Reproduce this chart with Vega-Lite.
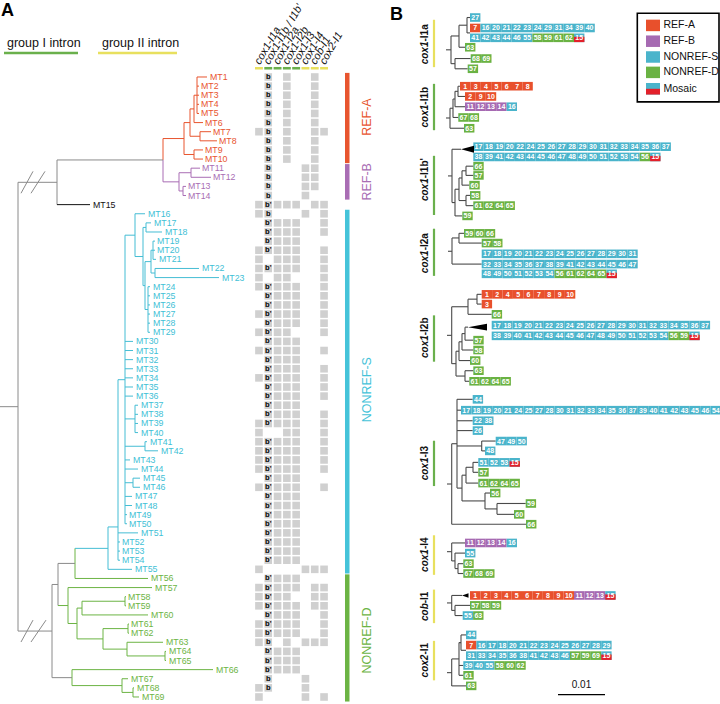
{
"$schema":"https://vega.github.io/schema/vega-lite/v6.json",
"width":720,"height":704,"autosize":"none","padding":0,"background":"white",
"config":{"view":{"stroke":null},"font":"Liberation Sans","text":{"font":"Liberation Sans"}},
"datasets":{
"strains":[
{"n":1,"id":"MT1","cl":"A","lx":210,"p":["b","d","g"],"v":"b"},
{"n":2,"id":"MT2","cl":"A","lx":201,"p":["b","d","g"],"v":"b"},
{"n":3,"id":"MT3","cl":"A","lx":201,"p":["b","d","g"],"v":"b"},
{"n":4,"id":"MT4","cl":"A","lx":201,"p":["b","d","g"],"v":"b"},
{"n":5,"id":"MT5","cl":"A","lx":201,"p":["b","d","g"],"v":"b"},
{"n":6,"id":"MT6","cl":"A","lx":205,"p":["b","d","g"],"v":"b"},
{"n":7,"id":"MT7","cl":"A","lx":213,"p":["a","b","d","g","h"],"v":"b"},
{"n":8,"id":"MT8","cl":"A","lx":219,"p":["b","d","g"],"v":"b"},
{"n":9,"id":"MT9","cl":"A","lx":205,"p":["b","d","g"],"v":"b"},
{"n":10,"id":"MT10","cl":"A","lx":205,"p":["b","d","g"],"v":"b"},
{"n":11,"id":"MT11","cl":"B","lx":202,"p":["b","f","g"],"v":"b"},
{"n":12,"id":"MT12","cl":"B","lx":213,"p":["b","f","g"],"v":"b"},
{"n":13,"id":"MT13","cl":"B","lx":188,"p":["b","f","g"],"v":"b"},
{"n":14,"id":"MT14","cl":"B","lx":188,"p":["b","f"],"v":"b"},
{"n":15,"id":"MT15","cl":"K","lx":93,"p":["a","b","c","d","e","g","h"],"v":"b'"},
{"n":16,"id":"MT16","cl":"S","lx":148,"p":["a","b","f","h"],"v":"b"},
{"n":17,"id":"MT17","cl":"S","lx":154,"p":["b","c","d","e","h"],"v":"b'"},
{"n":18,"id":"MT18","cl":"S","lx":165,"p":["b","c","d","e","h"],"v":"b'"},
{"n":19,"id":"MT19","cl":"S","lx":157,"p":["b","c","d","e"],"v":"b'"},
{"n":20,"id":"MT20","cl":"S","lx":157,"p":["a","b","c","d","e","h"],"v":"b'"},
{"n":21,"id":"MT21","cl":"S","lx":159,"p":["a","c","d","e","h"],"v":""},
{"n":22,"id":"MT22","cl":"S","lx":202,"p":["a","b","c","d","e","h"],"v":"b'"},
{"n":23,"id":"MT23","cl":"S","lx":222,"p":["a","c","d","h"],"v":""},
{"n":24,"id":"MT24","cl":"S","lx":153,"p":["a","b","c","d","e","h"],"v":"b'"},
{"n":25,"id":"MT25","cl":"S","lx":153,"p":["b","c","d","e","h"],"v":"b'"},
{"n":26,"id":"MT26","cl":"S","lx":153,"p":["b","c","d","e","h"],"v":"b'"},
{"n":27,"id":"MT27","cl":"S","lx":153,"p":["a","b","c","d","e","h"],"v":"b'"},
{"n":28,"id":"MT28","cl":"S","lx":153,"p":["b","c","d","e","h"],"v":"b'"},
{"n":29,"id":"MT29","cl":"S","lx":153,"p":["a","b","c","d","h"],"v":"b'"},
{"n":30,"id":"MT30","cl":"S","lx":136,"p":["b","c","d","e"],"v":"b'"},
{"n":31,"id":"MT31","cl":"S","lx":136,"p":["a","b","c","d","e","h"],"v":"b'"},
{"n":32,"id":"MT32","cl":"S","lx":136,"p":["b","c","d","e"],"v":"b'"},
{"n":33,"id":"MT33","cl":"S","lx":136,"p":["b","c","d","e","h"],"v":"b'"},
{"n":34,"id":"MT34","cl":"S","lx":136,"p":["a","b","c","d","e","h"],"v":"b'"},
{"n":35,"id":"MT35","cl":"S","lx":136,"p":["b","c","d","e","h"],"v":"b'"},
{"n":36,"id":"MT36","cl":"S","lx":136,"p":["b","c","d","e","h"],"v":"b'"},
{"n":37,"id":"MT37","cl":"S","lx":141,"p":["b","c","d","e"],"v":"b'"},
{"n":38,"id":"MT38","cl":"S","lx":141,"p":["b","c","d","e","h"],"v":"b'"},
{"n":39,"id":"MT39","cl":"S","lx":141,"p":["a","b","c","d","e","h"],"v":"b'"},
{"n":40,"id":"MT40","cl":"S","lx":141,"p":["a","d","e","h"],"v":""},
{"n":41,"id":"MT41","cl":"S","lx":150,"p":["a","b","c","d","e","h"],"v":"b'"},
{"n":42,"id":"MT42","cl":"S","lx":161,"p":["a","b","c","d","e","h"],"v":"b'"},
{"n":43,"id":"MT43","cl":"S","lx":133,"p":["a","b","c","d","e","h"],"v":"b'"},
{"n":44,"id":"MT44","cl":"S","lx":141,"p":["a","b","c","d","e","h"],"v":"b'"},
{"n":45,"id":"MT45","cl":"S","lx":143,"p":["b","c","d","e"],"v":"b'"},
{"n":46,"id":"MT46","cl":"S","lx":143,"p":["a","b","c","d","e","h"],"v":"b'"},
{"n":47,"id":"MT47","cl":"S","lx":135,"p":["b","c","d","e"],"v":"b'"},
{"n":48,"id":"MT48","cl":"S","lx":135,"p":["b","c","d","e"],"v":"b'"},
{"n":49,"id":"MT49","cl":"S","lx":129,"p":["b","c","d","e"],"v":"b'"},
{"n":50,"id":"MT50","cl":"S","lx":129,"p":["b","c","d","e"],"v":"b'"},
{"n":51,"id":"MT51","cl":"S","lx":141,"p":["b","c","d","e"],"v":"b'"},
{"n":52,"id":"MT52","cl":"S","lx":122,"p":["b","c","d","e"],"v":"b'"},
{"n":53,"id":"MT53","cl":"S","lx":122,"p":["b","c","d","e"],"v":"b'"},
{"n":54,"id":"MT54","cl":"S","lx":122,"p":["b","c","d","e"],"v":"b'"},
{"n":55,"id":"MT55","cl":"S","lx":135,"p":["a","f","g","h"],"v":""},
{"n":56,"id":"MT56","cl":"D","lx":151,"p":["b","c","d","e"],"v":"b'"},
{"n":57,"id":"MT57","cl":"D","lx":155,"p":["a","b","c","d","e","g","h"],"v":"b'"},
{"n":58,"id":"MT58","cl":"D","lx":128,"p":["a","b","c","d","g","h"],"v":"b'"},
{"n":59,"id":"MT59","cl":"D","lx":128,"p":["a","b","c","d","e","g","h"],"v":"b'"},
{"n":60,"id":"MT60","cl":"D","lx":151,"p":["b","c","d","e","h"],"v":"b'"},
{"n":61,"id":"MT61","cl":"D","lx":131,"p":["a","b","c","d","e","h"],"v":"b'"},
{"n":62,"id":"MT62","cl":"D","lx":131,"p":["a","b","c","d","e","h"],"v":"b'"},
{"n":63,"id":"MT63","cl":"D","lx":166,"p":["a","b","d","f","g","h"],"v":"b"},
{"n":64,"id":"MT64","cl":"D","lx":169,"p":["b","c","d","e"],"v":"b'"},
{"n":65,"id":"MT65","cl":"D","lx":169,"p":["b","c","d","e"],"v":"b'"},
{"n":66,"id":"MT66","cl":"D","lx":216,"p":["b","c","d","e"],"v":"b'"},
{"n":67,"id":"MT67","cl":"D","lx":131,"p":["b","f"],"v":"b"},
{"n":68,"id":"MT68","cl":"D","lx":137,"p":["a","b","f"],"v":"b"},
{"n":69,"id":"MT69","cl":"D","lx":142,"p":["a","f","h"],"v":""}
],
"hA":[
{"x":0,"x2":18,"y":37.16,"c":"G"},{"x":18,"x2":57,"y":12.55,"c":"G"},{"x":18,"x2":52,"y":61.77,"c":"G"},
{"x":57,"x2":163,"y":10.1,"c":"G"},{"x":57,"x2":90,"y":15,"c":"K"},
{"x":163,"x2":184,"y":7.75,"c":"A"},{"x":163,"x2":179,"y":12.5,"c":"B"},
{"x":184,"x2":190,"y":6,"c":"A"},{"x":184,"x2":194,"y":9.5,"c":"A"},{"x":190,"x2":194,"y":4.5,"c":"A"},{"x":190,"x2":200,"y":7.5,"c":"A"},
{"x":194,"x2":197,"y":3,"c":"A"},{"x":194,"x2":203,"y":6,"c":"A"},{"x":197,"x2":207,"y":1,"c":"A"},{"x":197,"x2":199,"y":2,"c":"A"},
{"x":197,"x2":199,"y":3,"c":"A"},{"x":197,"x2":199,"y":4,"c":"A"},{"x":197,"x2":199,"y":5,"c":"A"},{"x":200,"x2":211,"y":7,"c":"A"},
{"x":200,"x2":217,"y":8,"c":"A"},{"x":194,"x2":203,"y":9,"c":"A"},{"x":194,"x2":203,"y":10,"c":"A"},
{"x":179,"x2":191,"y":11.5,"c":"B"},{"x":179,"x2":183,"y":13.5,"c":"B"},{"x":191,"x2":200,"y":11,"c":"B"},{"x":191,"x2":211,"y":12,"c":"B"},
{"x":183,"x2":186,"y":13,"c":"B"},{"x":183,"x2":186,"y":14,"c":"B"},
{"x":135,"x2":145,"y":16,"c":"S"},{"x":135,"x2":143,"y":20.69,"c":"S"},{"x":143,"x2":146,"y":17.5,"c":"S"},{"x":143,"x2":145,"y":23.88,"c":"S"},
{"x":146,"x2":151,"y":17,"c":"S"},{"x":146,"x2":162,"y":18,"c":"S"},{"x":145,"x2":151,"y":21.25,"c":"S"},{"x":145,"x2":148,"y":26.5,"c":"S"},
{"x":151,"x2":153,"y":20,"c":"S"},{"x":151,"x2":155,"y":22.5,"c":"S"},{"x":153,"x2":155,"y":19,"c":"S"},{"x":153,"x2":155,"y":20,"c":"S"},
{"x":153,"x2":156,"y":21,"c":"S"},{"x":155,"x2":199,"y":22,"c":"S"},{"x":155,"x2":219,"y":23,"c":"S"},
{"x":148,"x2":150,"y":24,"c":"S"},{"x":148,"x2":150,"y":25,"c":"S"},{"x":148,"x2":150,"y":26,"c":"S"},{"x":148,"x2":150,"y":27,"c":"S"},
{"x":148,"x2":150,"y":28,"c":"S"},{"x":148,"x2":150,"y":29,"c":"S"},
{"x":125,"x2":135,"y":18.35,"c":"S"},
{"x":125,"x2":133,"y":30,"c":"S"},{"x":125,"x2":133,"y":31,"c":"S"},{"x":125,"x2":133,"y":32,"c":"S"},{"x":125,"x2":133,"y":33,"c":"S"},
{"x":125,"x2":133,"y":34,"c":"S"},{"x":125,"x2":133,"y":35,"c":"S"},{"x":125,"x2":133,"y":36,"c":"S"},
{"x":135,"x2":138,"y":37,"c":"S"},{"x":135,"x2":138,"y":38,"c":"S"},{"x":135,"x2":138,"y":39,"c":"S"},{"x":135,"x2":138,"y":40,"c":"S"},
{"x":125,"x2":135,"y":38.5,"c":"S"},{"x":145,"x2":147,"y":41,"c":"S"},{"x":145,"x2":158,"y":42,"c":"S"},{"x":125,"x2":145,"y":41.5,"c":"S"},
{"x":125,"x2":130,"y":43,"c":"S"},{"x":125,"x2":138,"y":44,"c":"S"},{"x":133,"x2":140,"y":45,"c":"S"},{"x":133,"x2":140,"y":46,"c":"S"},
{"x":125,"x2":133,"y":45.5,"c":"S"},{"x":125,"x2":132,"y":47,"c":"S"},{"x":125,"x2":132,"y":48,"c":"S"},{"x":125,"x2":127,"y":49,"c":"S"},
{"x":125,"x2":127,"y":50,"c":"S"},{"x":118,"x2":125,"y":34.2,"c":"S"},{"x":118,"x2":138,"y":51,"c":"S"},{"x":118,"x2":120,"y":52,"c":"S"},
{"x":118,"x2":120,"y":53,"c":"S"},{"x":118,"x2":120,"y":54,"c":"S"},{"x":108,"x2":118,"y":50.35,"c":"S"},{"x":108,"x2":132,"y":55,"c":"S"},
{"x":75,"x2":108,"y":52.7,"c":"S"},
{"x":75,"x2":148,"y":56,"c":"D"},{"x":58,"x2":75,"y":54.35,"c":"G"},{"x":58,"x2":68,"y":58.97,"c":"D"},{"x":68,"x2":152,"y":57,"c":"D"},
{"x":68,"x2":77,"y":60.94,"c":"D"},{"x":77,"x2":82,"y":59.25,"c":"D"},{"x":77,"x2":103,"y":62.63,"c":"D"},{"x":82,"x2":125,"y":58.5,"c":"D"},
{"x":82,"x2":148,"y":60,"c":"D"},{"x":125,"x2":126,"y":58,"c":"D"},{"x":125,"x2":126,"y":59,"c":"D"},{"x":103,"x2":128,"y":61.5,"c":"D"},
{"x":103,"x2":127,"y":63.75,"c":"D"},{"x":128,"x2":129,"y":61,"c":"D"},{"x":128,"x2":129,"y":62,"c":"D"},{"x":127,"x2":163,"y":63,"c":"D"},
{"x":127,"x2":165,"y":64.5,"c":"D"},{"x":165,"x2":166,"y":64,"c":"D"},{"x":165,"x2":166,"y":65,"c":"D"},
{"x":52,"x2":58,"y":56.66,"c":"G"},{"x":52,"x2":72,"y":66.88,"c":"G"},
{"x":72,"x2":213,"y":66,"c":"D"},{"x":72,"x2":122,"y":67.75,"c":"D"},{"x":122,"x2":128,"y":67,"c":"D"},{"x":122,"x2":133,"y":68.5,"c":"D"},
{"x":133,"x2":134,"y":68,"c":"D"},{"x":133,"x2":139,"y":69,"c":"D"}
],
"vA":[
{"x":18,"y":12.55,"y2":61.77,"c":"G"},{"x":57,"y":10.1,"y2":15,"c":"G"},{"x":163,"y":7.75,"y2":10.1,"c":"A"},{"x":163,"y":10.1,"y2":12.5,"c":"B"},
{"x":184,"y":6,"y2":9.5,"c":"A"},{"x":190,"y":4.5,"y2":7.5,"c":"A"},{"x":194,"y":3,"y2":6,"c":"A"},{"x":197,"y":1,"y2":5,"c":"A"},
{"x":200,"y":7,"y2":8,"c":"A"},{"x":194,"y":9,"y2":10,"c":"A"},{"x":179,"y":11.5,"y2":13.5,"c":"B"},{"x":191,"y":11,"y2":12,"c":"B"},
{"x":183,"y":13,"y2":14,"c":"B"},{"x":135,"y":16,"y2":20.69,"c":"S"},{"x":143,"y":17.5,"y2":23.88,"c":"S"},{"x":146,"y":17,"y2":18,"c":"S"},
{"x":145,"y":21.25,"y2":26.5,"c":"S"},{"x":151,"y":20,"y2":22.5,"c":"S"},{"x":153,"y":19,"y2":21,"c":"S"},{"x":155,"y":22,"y2":23,"c":"S"},
{"x":148,"y":24,"y2":29,"c":"S"},{"x":125,"y":18.35,"y2":50,"c":"S"},{"x":135,"y":37,"y2":40,"c":"S"},{"x":145,"y":41,"y2":42,"c":"S"},
{"x":133,"y":45,"y2":46,"c":"S"},{"x":118,"y":34.2,"y2":54,"c":"S"},{"x":108,"y":50.35,"y2":55,"c":"S"},{"x":75,"y":52.7,"y2":56,"c":"D"},
{"x":58,"y":54.35,"y2":58.97,"c":"G"},{"x":68,"y":57,"y2":60.94,"c":"D"},{"x":77,"y":59.25,"y2":62.63,"c":"D"},{"x":82,"y":58.5,"y2":60,"c":"D"},
{"x":125,"y":58,"y2":59,"c":"D"},{"x":103,"y":61.5,"y2":63.75,"c":"D"},{"x":128,"y":61,"y2":62,"c":"D"},{"x":127,"y":63,"y2":64.5,"c":"D"},
{"x":165,"y":64,"y2":65,"c":"D"},{"x":52,"y":56.66,"y2":66.88,"c":"G"},{"x":72,"y":66,"y2":67.75,"c":"D"},{"x":122,"y":67,"y2":68.5,"c":"D"},
{"x":133,"y":68,"y2":69,"c":"D"}
],
"dA":[
{"x":21,"x2":33,"y":13.75,"y2":11.35},{"x":31,"x2":45,"y":13.75,"y2":11.35},
{"x":21,"x2":33,"y":62.97,"y2":60.57},{"x":31,"x2":46,"y":62.97,"y2":60.57}
],
"clades":[
{"c":"A","lab":"REF-A","r0":0.55,"r1":10.45,"m":5.4},
{"c":"B","lab":"REF-B","r0":10.55,"r1":14.45,"m":12.5},
{"c":"S","lab":"NONREF-S","r0":15.55,"r1":55.45,"m":35.3},
{"c":"D","lab":"NONREF-D","r0":55.55,"r1":69.5,"m":62.8}
],
"groups":[
{"g":"I","lab":"group I intron","tx":7,"x1":4,"x2":78},
{"g":"II","lab":"group II intron","tx":102,"x1":98,"x2":177}
],
"cols":[
{"c":"a","lab":"cox1-I1a","g":"II"},{"c":"b","lab":"cox1-I1b / I1b'","g":"I"},{"c":"c","lab":"cox1-I2a","g":"I"},
{"c":"d","lab":"cox1-I2b","g":"I"},{"c":"e","lab":"cox1-I3","g":"I"},{"c":"f","lab":"cox1-I4","g":"II"},
{"c":"g","lab":"cob-I1","g":"II"},{"c":"h","lab":"cox2-I1","g":"II"}
],
"lines":[
{"id":1,"r":1.0,"x0":470,"ns":[27]},
{"id":2,"r":2.02,"x0":470,"ns":[7,16,20,21,22,23,24,29,31,34,39,40]},
{"id":3,"r":2.98,"x0":470,"ns":[41,42,43,44,46,55,58,59,61,62,15]},
{"id":4,"r":3.9,"x0":465,"ns":[63]},
{"id":5,"r":5.0,"x0":470.7,"ns":[68,69]},
{"id":6,"r":6.0,"x0":467.7,"ns":[57]},
{"id":7,"r":7.7,"x0":460,"ns":[1,3,4,5,6,7,8]},
{"id":8,"r":8.7,"x0":465,"ns":[2,9,10]},
{"id":9,"r":9.7,"x0":465,"ns":[11,12,13,14,16]},
{"id":10,"r":10.75,"x0":458.3,"ns":[67,68]},
{"id":11,"r":11.8,"x0":464,"ns":[63]},
{"id":12,"r":13.6,"x0":473.3,"ns":[17,18,19,20,22,24,25,26,27,28,29,30,31,32,33,34,35,36,37]},
{"id":13,"r":14.6,"x0":473.3,"ns":[38,39,41,42,43,44,45,46,47,48,49,50,51,52,53,54,56,15]},
{"id":14,"r":15.5,"x0":473.3,"ns":[66]},
{"id":15,"r":16.4,"x0":473.3,"ns":[57]},
{"id":16,"r":17.35,"x0":469.3,"ns":[60]},
{"id":17,"r":18.35,"x0":470,"ns":[58]},
{"id":18,"r":19.35,"x0":473.3,"ns":[61,62,64,65]},
{"id":19,"r":20.35,"x0":462.3,"ns":[59]},
{"id":20,"r":22.05,"x0":464,"ns":[59,60,66]},
{"id":21,"r":23.0,"x0":481.7,"ns":[57,58]},
{"id":22,"r":24.05,"x0":481.7,"ns":[17,18,19,20,21,22,23,24,25,26,27,28,29,30,31]},
{"id":23,"r":25.05,"x0":481.7,"ns":[32,33,34,35,36,37,38,39,41,42,43,44,45,46,47]},
{"id":24,"r":26.0,"x0":481.7,"ns":[48,49,50,51,52,53,54,56,61,62,64,65,15]},
{"id":25,"r":28.0,"x0":481.7,"ns":[1,2,4,5,6,7,8,9,10]},
{"id":26,"r":28.95,"x0":481.7,"ns":[3]},
{"id":27,"r":29.95,"x0":491.7,"ns":[66]},
{"id":28,"r":31.0,"x0":491.7,"ns":[17,18,19,20,21,22,23,24,25,26,27,28,29,30,31,32,33,34,35,36,37]},
{"id":29,"r":32.05,"x0":491.7,"ns":[38,39,40,41,42,43,44,45,46,47,48,49,50,51,52,53,54,56,59,15]},
{"id":30,"r":32.47,"x0":473.3,"ns":[57]},
{"id":31,"r":33.43,"x0":473.3,"ns":[58]},
{"id":32,"r":34.46,"x0":470,"ns":[60]},
{"id":33,"r":35.45,"x0":473.3,"ns":[63]},
{"id":34,"r":36.48,"x0":469.3,"ns":[61,62,64,65]},
{"id":35,"r":38.24,"x0":472.7,"ns":[44]},
{"id":36,"r":39.3,"x0":461,"ns":[17,18,19,20,21,24,25,27,28,30,31,32,33,34,35,36,37,39,40,41,42,43,45,46,54]},
{"id":37,"r":40.33,"x0":472.7,"ns":[22,38]},
{"id":38,"r":41.29,"x0":472.7,"ns":[26]},
{"id":39,"r":42.31,"x0":495.7,"ns":[47,49,50]},
{"id":40,"r":43.27,"x0":485,"ns":[48]},
{"id":41,"r":44.39,"x0":478.3,"ns":[51,52,53,15]},
{"id":42,"r":45.36,"x0":478.3,"ns":[57]},
{"id":43,"r":46.41,"x0":478.3,"ns":[61,62,64,65]},
{"id":44,"r":47.38,"x0":490,"ns":[56]},
{"id":45,"r":48.4,"x0":525.7,"ns":[59]},
{"id":46,"r":49.46,"x0":514,"ns":[60]},
{"id":47,"r":50.42,"x0":526,"ns":[66]},
{"id":48,"r":52.25,"x0":465,"ns":[11,12,13,14,16]},
{"id":49,"r":53.24,"x0":465,"ns":[55]},
{"id":50,"r":54.27,"x0":463.3,"ns":[63]},
{"id":51,"r":55.23,"x0":463.3,"ns":[67,68,69]},
{"id":52,"r":57.37,"x0":470,"ns":[1,2,3,4,5,6,7,8,9,10,11,12,13,15]},
{"id":53,"r":58.34,"x0":470,"ns":[57,58,59]},
{"id":54,"r":59.33,"x0":462.7,"ns":[55,63]},
{"id":55,"r":61.22,"x0":466,"ns":[44]},
{"id":56,"r":62.21,"x0":466,"ns":[7,16,17,18,20,21,22,23,24,25,26,27,28,29]},
{"id":57,"r":63.24,"x0":466,"ns":[31,33,34,35,36,38,41,42,43,46,57,59,69,15]},
{"id":58,"r":64.2,"x0":463.3,"ns":[39,40,55,58,60,62]},
{"id":59,"r":65.16,"x0":463.3,"ns":[61]},
{"id":60,"r":66.19,"x0":466,"ns":[63]}
],
"hB":[
{"x":467,"x2":470,"y":1.0},{"x":467,"x2":470,"y":2.5},{"x":459,"x2":467,"y":1.75},{"x":459,"x2":465,"y":3.9},{"x":455,"x2":470.7,"y":5},
{"x":455,"x2":467.7,"y":6},{"x":451,"x2":459,"y":2.8},{"x":451,"x2":455,"y":5.5},{"x":446,"x2":451,"y":4.15},
{"x":458,"x2":460,"y":7.7},{"x":458,"x2":465,"y":8.7},{"x":455,"x2":458,"y":8.2},{"x":455,"x2":465,"y":9.7},{"x":453,"x2":455,"y":8.95},
{"x":453,"x2":458.3,"y":10.75},{"x":450,"x2":453,"y":9.85},{"x":450,"x2":464,"y":11.8},{"x":446,"x2":450,"y":10.8},
{"x":466,"x2":473.3,"y":15.5},{"x":466,"x2":473.3,"y":16.4},{"x":462,"x2":466,"y":15.95},{"x":462,"x2":469.3,"y":17.35},{"x":466,"x2":470,"y":18.35},
{"x":466,"x2":473.3,"y":19.35},{"x":459,"x2":462,"y":16.65},{"x":459,"x2":466,"y":18.85},{"x":455,"x2":459,"y":17.75},{"x":455,"x2":462.3,"y":20.35},
{"x":452,"x2":461,"y":13.85},{"x":452,"x2":455,"y":19.05},{"x":448,"x2":452,"y":16.45},
{"x":459,"x2":464,"y":22.05},{"x":459,"x2":481.7,"y":23.0},{"x":452,"x2":459,"y":22.5},{"x":452,"x2":481.7,"y":25.05},{"x":448,"x2":452,"y":23.8},
{"x":477,"x2":481.7,"y":28.0},{"x":477,"x2":481.7,"y":28.95},{"x":468,"x2":477,"y":28.47},{"x":468,"x2":491.7,"y":29.95},{"x":465,"x2":468,"y":31.2},
{"x":465,"x2":473.3,"y":32.47},{"x":462,"x2":465,"y":31.83},{"x":462,"x2":473.3,"y":33.43},{"x":459,"x2":462,"y":32.63},{"x":459,"x2":470,"y":34.46},
{"x":465,"x2":473.3,"y":35.45},{"x":465,"x2":469.3,"y":36.48},{"x":456,"x2":459,"y":33.55},{"x":456,"x2":465,"y":35.97},{"x":451.7,"x2":468,"y":29.21},
{"x":451.7,"x2":456,"y":34.76},{"x":447,"x2":451.7,"y":32.0},
{"x":457,"x2":472.7,"y":38.24},{"x":457,"x2":461,"y":39.3},{"x":457,"x2":472.7,"y":40.33},{"x":457,"x2":472.7,"y":41.29},{"x":481.7,"x2":495.7,"y":42.31},
{"x":481.7,"x2":485,"y":43.27},{"x":457,"x2":481.7,"y":42.79},{"x":473,"x2":478.3,"y":44.39},{"x":473,"x2":478.3,"y":45.36},{"x":466,"x2":473,"y":44.87},
{"x":466,"x2":478.3,"y":46.41},{"x":497,"x2":525.7,"y":48.4},{"x":497,"x2":514,"y":49.46},{"x":485,"x2":490,"y":47.38},{"x":485,"x2":497,"y":48.93},
{"x":462,"x2":466,"y":45.64},{"x":462,"x2":485,"y":48.15},{"x":457,"x2":462,"y":46.9},{"x":451.7,"x2":457,"y":42.57},{"x":451.7,"x2":526,"y":50.42},
{"x":447,"x2":451.7,"y":46.5},
{"x":458,"x2":463.3,"y":54.27},{"x":458,"x2":463.3,"y":55.23},{"x":455,"x2":465,"y":53.24},{"x":455,"x2":458,"y":54.75},{"x":451.7,"x2":465,"y":52.25},
{"x":451.7,"x2":455,"y":54.0},{"x":447,"x2":451.7,"y":53.1},
{"x":455,"x2":470,"y":58.34},{"x":455,"x2":462.7,"y":59.33},{"x":451.7,"x2":462,"y":57.37},{"x":451.7,"x2":455,"y":58.83},{"x":447,"x2":451.7,"y":58.1},
{"x":461,"x2":466,"y":61.22},{"x":461,"x2":466,"y":62.72},{"x":459,"x2":461,"y":61.97},{"x":459,"x2":463.3,"y":64.2},{"x":459,"x2":463.3,"y":65.16},
{"x":451.7,"x2":459,"y":63.56},{"x":451.7,"x2":466,"y":66.19},{"x":447,"x2":451.7,"y":64.9}
],
"vB":[
{"x":467,"y":1.0,"y2":2.5},{"x":459,"y":1.75,"y2":3.9},{"x":455,"y":5,"y2":6},{"x":451,"y":2.8,"y2":5.5},
{"x":458,"y":7.7,"y2":8.7},{"x":455,"y":8.2,"y2":9.7},{"x":453,"y":8.95,"y2":10.75},{"x":450,"y":9.85,"y2":11.8},
{"x":466,"y":15.5,"y2":16.4},{"x":462,"y":15.95,"y2":17.35},{"x":466,"y":18.35,"y2":19.35},{"x":459,"y":16.65,"y2":18.85},{"x":455,"y":17.75,"y2":20.35},{"x":452,"y":13.85,"y2":19.05},
{"x":459,"y":22.05,"y2":23.0},{"x":452,"y":22.5,"y2":25.05},
{"x":477,"y":28.0,"y2":28.95},{"x":468,"y":28.47,"y2":29.95},{"x":465,"y":31.2,"y2":32.47},{"x":462,"y":31.83,"y2":33.43},{"x":459,"y":32.63,"y2":34.46},
{"x":465,"y":35.45,"y2":36.48},{"x":456,"y":33.55,"y2":35.97},{"x":451.7,"y":29.21,"y2":34.76},
{"x":457,"y":38.24,"y2":46.9},{"x":481.7,"y":42.31,"y2":43.27},{"x":473,"y":44.39,"y2":45.36},{"x":466,"y":44.87,"y2":46.41},{"x":497,"y":48.4,"y2":49.46},
{"x":485,"y":47.38,"y2":48.93},{"x":462,"y":45.64,"y2":48.15},{"x":451.7,"y":42.57,"y2":50.42},
{"x":458,"y":54.27,"y2":55.23},{"x":455,"y":53.24,"y2":54.75},{"x":451.7,"y":52.25,"y2":54.0},
{"x":455,"y":58.34,"y2":59.33},{"x":451.7,"y":57.37,"y2":58.83},
{"x":461,"y":61.22,"y2":62.72},{"x":459,"y":61.97,"y2":65.16},{"x":451.7,"y":63.56,"y2":66.19}
],
"tri":[
{"id":1,"x":461,"lo":13.85,"hi":13.85},{"id":1,"x":474,"lo":13.5,"hi":14.2},
{"id":2,"x":468,"lo":31.2,"hi":31.2},{"id":2,"x":487,"lo":30.87,"hi":31.53},
{"id":3,"x":462,"lo":57.37,"hi":57.37},{"id":3,"x":468.5,"lo":57.15,"hi":57.59}
],
"introns":[
{"a":"cox1","b":"-I1a","g":"II","r0":1.22,"r1":5.84,"j":3.34},
{"a":"cox1","b":"-I1b","g":"I","r0":7.47,"r1":11.99,"j":9.5},
{"a":"cox1","b":"-I1b'","g":"I","r0":14.49,"r1":20.26,"j":16.68},
{"a":"cox1","b":"-I2a","g":"I","r0":21.6,"r1":26.2,"j":23.71},
{"a":"cox1","b":"-I2b","g":"I","r0":30.05,"r1":34.57,"j":31.99},
{"a":"cox1","b":"-I3","g":"I","r0":42.28,"r1":46.7,"j":43.92},
{"a":"cox1","b":"-I4","g":"II","r0":51.5,"r1":55.36,"j":52.85},
{"a":"cob","b":"-I1","g":"II","r0":56.8,"r1":60.07,"j":58.13},
{"a":"cox2","b":"-I1","g":"II","r0":61.8,"r1":65.65,"j":63.14}
],
"legend":[
{"c":"A","lab":"REF-A","r":1.77},{"c":"B","lab":"REF-B","r":3.31},{"c":"S","lab":"NONREF-S","r":4.85},
{"c":"D","lab":"NONREF-D","r":6.35},{"c":"K","lab":"Mosaic","r":7.95}
]
},
"layer":[
{
"layer":[
{"data":{"name":"vA"},"mark":{"type":"rule","strokeWidth":1},
 "encoding":{"x":{"field":"x","type":"quantitative","scale":{"domain":[0,720],"nice":false,"zero":false},"axis":null},
 "y":{"field":"y","type":"quantitative","scale":{"domain":[-7.445,69.77],"nice":false,"zero":false,"reverse":true},"axis":null},
 "y2":{"field":"y2"},
 "color":{"field":"c","type":"nominal","scale":{"domain":["A","B","S","D","K","G"],"range":["#e8552f","#a96db4","#45bdd4","#6cb444","#111111","#8a8a8a"]},"legend":null}}},
{"data":{"name":"hA"},"mark":{"type":"rule","strokeWidth":1},
 "encoding":{"x":{"field":"x","type":"quantitative","scale":{"domain":[0,720],"nice":false,"zero":false},"axis":null},
 "x2":{"field":"x2"},
 "y":{"field":"y","type":"quantitative","scale":{"domain":[-7.445,69.77],"nice":false,"zero":false,"reverse":true},"axis":null},
 "color":{"field":"c","type":"nominal","scale":{"domain":["A","B","S","D","K","G"],"range":["#e8552f","#a96db4","#45bdd4","#6cb444","#111111","#8a8a8a"]},"legend":null}}},
{"data":{"name":"dA"},"mark":{"type":"rule","strokeWidth":1,"color":"#8a8a8a"},
 "encoding":{"x":{"field":"x","type":"quantitative","scale":{"domain":[0,720],"nice":false,"zero":false},"axis":null},
 "x2":{"field":"x2"},
 "y":{"field":"y","type":"quantitative","scale":{"domain":[-7.445,69.77],"nice":false,"zero":false,"reverse":true},"axis":null},
 "y2":{"field":"y2"}}},
{"data":{"name":"strains"},"mark":{"type":"text","align":"left","baseline":"middle","fontSize":8.8},
 "encoding":{"x":{"field":"lx","type":"quantitative","scale":{"domain":[0,720],"nice":false,"zero":false},"axis":null},
 "y":{"field":"n","type":"quantitative","scale":{"domain":[-7.445,69.77],"nice":false,"zero":false,"reverse":true},"axis":null},
 "text":{"field":"id"},
 "color":{"field":"cl","type":"nominal","scale":{"domain":["A","B","S","D","K","G"],"range":["#e8552f","#a96db4","#3fbfd6","#6cb444","#111111","#8a8a8a"]},"legend":null}}},
{"data":{"name":"clades"},"mark":{"type":"rect"},
 "encoding":{"x":{"datum":345,"type":"quantitative","scale":{"domain":[0,720],"nice":false,"zero":false},"axis":null},
 "x2":{"datum":349.5},
 "y":{"field":"r0","type":"quantitative","scale":{"domain":[-7.445,69.77],"nice":false,"zero":false,"reverse":true},"axis":null},
 "y2":{"field":"r1"},
 "color":{"field":"c","type":"nominal","scale":{"domain":["A","B","S","D"],"range":["#e8552f","#a96db4","#45c3d9","#6cb444"]},"legend":null}}},
{"data":{"name":"clades"},"mark":{"type":"text","angle":270,"align":"center","baseline":"middle","fontSize":12.5},
 "encoding":{"x":{"datum":367,"type":"quantitative","scale":{"domain":[0,720],"nice":false,"zero":false},"axis":null},
 "y":{"field":"m","type":"quantitative","scale":{"domain":[-7.445,69.77],"nice":false,"zero":false,"reverse":true},"axis":null},
 "text":{"field":"lab"},
 "color":{"field":"c","type":"nominal","scale":{"domain":["A","B","S","D"],"range":["#e8552f","#a96db4","#45c3d9","#6cb444"]},"legend":null}}},
{"data":{"name":"groups"},"mark":{"type":"rule","strokeWidth":2.5},
 "encoding":{"x":{"field":"x1","type":"quantitative","scale":{"domain":[0,720],"nice":false,"zero":false},"axis":null},
 "x2":{"field":"x2"},
 "y":{"datum":-1.63,"type":"quantitative","scale":{"domain":[-7.445,69.77],"nice":false,"zero":false,"reverse":true},"axis":null},
 "color":{"field":"g","type":"nominal","scale":{"domain":["I","II"],"range":["#6ab04c","#e8e05e"]},"legend":null}}},
{"data":{"name":"groups"},"mark":{"type":"text","align":"left","baseline":"middle","fontSize":12.5,"color":"#111111"},
 "encoding":{"x":{"field":"tx","type":"quantitative","scale":{"domain":[0,720],"nice":false,"zero":false},"axis":null},
 "y":{"datum":-2.75,"type":"quantitative","scale":{"domain":[-7.445,69.77],"nice":false,"zero":false,"reverse":true},"axis":null},
 "text":{"field":"lab"}}},
{"data":{"values":[{"t":"A"}]},"mark":{"type":"text","align":"left","baseline":"middle","fontSize":18,"fontWeight":"bold","color":"#000000"},
 "encoding":{"x":{"datum":1,"type":"quantitative","scale":{"domain":[0,720],"nice":false,"zero":false},"axis":null},
 "y":{"datum":-6.2,"type":"quantitative","scale":{"domain":[-7.445,69.77],"nice":false,"zero":false,"reverse":true},"axis":null},
 "text":{"field":"t"}}}
],
"resolve":{"scale":{"color":"independent"}}
},
{
"layer":[
{"data":{"name":"strains"},"transform":[{"flatten":["p"],"as":["col"]}],
 "mark":{"type":"square","size":58,"color":"#d0d0d0","opacity":1,"filled":true},
 "encoding":{"x":{"field":"col","type":"nominal","scale":{"type":"band","domain":["a","b","c","d","e","f","g","h"],"range":[255,328],"paddingInner":0.15,"paddingOuter":0},"axis":null},
 "y":{"field":"n","type":"quantitative","scale":{"domain":[-7.445,69.77],"nice":false,"zero":false,"reverse":true},"axis":null}}},
{"data":{"name":"strains"},"transform":[{"filter":"datum.v != ''"}],
 "mark":{"type":"text","align":"center","baseline":"middle","fontSize":7.5,"fontWeight":"bold","color":"#000000"},
 "encoding":{"x":{"datum":"b","type":"nominal","scale":{"type":"band","domain":["a","b","c","d","e","f","g","h"],"range":[255,328],"paddingInner":0.15,"paddingOuter":0},"axis":null},
 "y":{"field":"n","type":"quantitative","scale":{"domain":[-7.445,69.77],"nice":false,"zero":false,"reverse":true},"axis":null},
 "text":{"field":"v"}}},
{"data":{"name":"cols"},"mark":{"type":"text","align":"left","baseline":"middle","angle":300,"fontSize":10.8,"fontStyle":"italic","color":"#111111","dx":-3},
 "encoding":{"x":{"field":"c","type":"nominal","scale":{"type":"band","domain":["a","b","c","d","e","f","g","h"],"range":[255,328],"paddingInner":0.15,"paddingOuter":0},"axis":null},
 "y":{"datum":-0.75,"type":"quantitative","scale":{"domain":[-7.445,69.77],"nice":false,"zero":false,"reverse":true},"axis":null},
 "text":{"field":"lab"}}},
{"data":{"name":"cols"},"mark":{"type":"rect"},
 "encoding":{"x":{"field":"c","type":"nominal","scale":{"type":"band","domain":["a","b","c","d","e","f","g","h"],"range":[255,328],"paddingInner":0.15,"paddingOuter":0},"axis":null},
 "y":{"datum":-0.1,"type":"quantitative","scale":{"domain":[-7.445,69.77],"nice":false,"zero":false,"reverse":true},"axis":null},
 "y2":{"datum":0.18},
 "color":{"field":"g","type":"nominal","scale":{"domain":["I","II"],"range":["#6ab04c","#e8e05e"]},"legend":null}}}
]
},
{
"layer":[
{"data":{"name":"vB"},"mark":{"type":"rule","strokeWidth":1.1,"color":"#4a4a4a"},
 "encoding":{"x":{"field":"x","type":"quantitative","scale":{"domain":[0,720],"nice":false,"zero":false},"axis":null},
 "y":{"field":"y","type":"quantitative","scale":{"domain":[-0.221,67.47],"nice":false,"zero":false,"reverse":true},"axis":null},
 "y2":{"field":"y2"}}},
{"data":{"name":"hB"},"mark":{"type":"rule","strokeWidth":1.1,"color":"#4a4a4a"},
 "encoding":{"x":{"field":"x","type":"quantitative","scale":{"domain":[0,720],"nice":false,"zero":false},"axis":null},
 "x2":{"field":"x2"},
 "y":{"field":"y","type":"quantitative","scale":{"domain":[-0.221,67.47],"nice":false,"zero":false,"reverse":true},"axis":null}}},
{"data":{"name":"lines"},
 "transform":[
  {"flatten":["ns"],"as":["n"]},
  {"window":[{"op":"row_number","as":"k"}],"groupby":["id"]},
  {"calculate":"datum.x0 + (datum.k - 1) * 10.4","as":"cx"},
  {"calculate":"datum.cx + 10.4","as":"cx2"},
  {"lookup":"n","from":{"data":{"name":"strains"},"key":"n","fields":["cl"]}}
 ],
 "layer":[
  {"mark":{"type":"bar","orient":"horizontal","size":8.6},
   "encoding":{"x":{"field":"cx","type":"quantitative","scale":{"domain":[0,720],"nice":false,"zero":false},"axis":null},
   "x2":{"field":"cx2"},
   "y":{"field":"r","type":"quantitative","scale":{"domain":[-0.221,67.47],"nice":false,"zero":false,"reverse":true},"axis":null},
   "color":{"field":"cl","type":"nominal","scale":{"domain":["A","B","S","D","K"],"range":["#e8502c","#a66ab2","#4ab4cb","#6ab243","#4ab4cb"]},"legend":null}}},
  {"transform":[{"filter":"datum.cl == 'K'"}],
   "mark":{"type":"bar","orient":"horizontal","size":5.4,"yOffset":1.6,"color":"#e3202a"},
   "encoding":{"x":{"field":"cx","type":"quantitative","scale":{"domain":[0,720],"nice":false,"zero":false},"axis":null},
   "x2":{"field":"cx2"},
   "y":{"field":"r","type":"quantitative","scale":{"domain":[-0.221,67.47],"nice":false,"zero":false,"reverse":true},"axis":null}}},
  {"mark":{"type":"text","align":"center","baseline":"middle","fontSize":7,"fontWeight":"bold","color":"#ffffff","dx":5.2,"dy":0.5},
   "encoding":{"x":{"field":"cx","type":"quantitative","scale":{"domain":[0,720],"nice":false,"zero":false},"axis":null},
   "y":{"field":"r","type":"quantitative","scale":{"domain":[-0.221,67.47],"nice":false,"zero":false,"reverse":true},"axis":null},
   "text":{"field":"n"}}}
 ]},
{"data":{"name":"tri"},"mark":{"type":"area","color":"#000000","orient":"vertical"},
 "encoding":{"x":{"field":"x","type":"quantitative","scale":{"domain":[0,720],"nice":false,"zero":false},"axis":null},
 "y":{"field":"lo","type":"quantitative","scale":{"domain":[-0.221,67.47],"nice":false,"zero":false,"reverse":true},"axis":null},
 "y2":{"field":"hi"},
 "detail":{"field":"id","type":"nominal"}}},
{"data":{"name":"introns"},"mark":{"type":"rule","strokeWidth":2.2},
 "encoding":{"x":{"datum":434,"type":"quantitative","scale":{"domain":[0,720],"nice":false,"zero":false},"axis":null},
 "y":{"field":"r0","type":"quantitative","scale":{"domain":[-0.221,67.47],"nice":false,"zero":false,"reverse":true},"axis":null},
 "y2":{"field":"r1"},
 "color":{"field":"g","type":"nominal","scale":{"domain":["I","II"],"range":["#6ab04c","#e8e05e"]},"legend":null}}},
{"data":{"name":"introns"},"mark":{"type":"text","angle":270,"align":"right","baseline":"middle","fontSize":10,"fontWeight":"bold","fontStyle":"italic","color":"#111111"},
 "encoding":{"x":{"datum":425,"type":"quantitative","scale":{"domain":[0,720],"nice":false,"zero":false},"axis":null},
 "y":{"field":"j","type":"quantitative","scale":{"domain":[-0.221,67.47],"nice":false,"zero":false,"reverse":true},"axis":null},
 "text":{"field":"a"}}},
{"data":{"name":"introns"},"mark":{"type":"text","angle":270,"align":"left","baseline":"middle","fontSize":10,"fontWeight":"bold","color":"#111111"},
 "encoding":{"x":{"datum":425,"type":"quantitative","scale":{"domain":[0,720],"nice":false,"zero":false},"axis":null},
 "y":{"field":"j","type":"quantitative","scale":{"domain":[-0.221,67.47],"nice":false,"zero":false,"reverse":true},"axis":null},
 "text":{"field":"b"}}},
{"data":{"values":[{"t":"box"}]},"mark":{"type":"rect","fill":"#ffffff","stroke":"#000000","strokeWidth":1.6},
 "encoding":{"x":{"datum":637.3,"type":"quantitative","scale":{"domain":[0,720],"nice":false,"zero":false},"axis":null},
 "x2":{"datum":719},
 "y":{"datum":0.58,"type":"quantitative","scale":{"domain":[-0.221,67.47],"nice":false,"zero":false,"reverse":true},"axis":null},
 "y2":{"datum":9.23}}},
{"data":{"name":"legend"},"mark":{"type":"bar","orient":"horizontal","size":11.5},
 "encoding":{"x":{"datum":646,"type":"quantitative","scale":{"domain":[0,720],"nice":false,"zero":false},"axis":null},
 "x2":{"datum":660},
 "y":{"field":"r","type":"quantitative","scale":{"domain":[-0.221,67.47],"nice":false,"zero":false,"reverse":true},"axis":null},
 "color":{"field":"c","type":"nominal","scale":{"domain":["A","B","S","D","K"],"range":["#e8502c","#a66ab2","#4ab4cb","#6ab243","#4ab4cb"]},"legend":null}}},
{"data":{"name":"legend"},"transform":[{"filter":"datum.c == 'K'"}],"mark":{"type":"bar","orient":"horizontal","size":5.75,"yOffset":2.9,"color":"#e3202a"},
 "encoding":{"x":{"datum":646,"type":"quantitative","scale":{"domain":[0,720],"nice":false,"zero":false},"axis":null},
 "x2":{"datum":660},
 "y":{"field":"r","type":"quantitative","scale":{"domain":[-0.221,67.47],"nice":false,"zero":false,"reverse":true},"axis":null}}},
{"data":{"name":"legend"},"mark":{"type":"text","align":"left","baseline":"middle","fontSize":10.5,"color":"#111111"},
 "encoding":{"x":{"datum":663.5,"type":"quantitative","scale":{"domain":[0,720],"nice":false,"zero":false},"axis":null},
 "y":{"field":"r","type":"quantitative","scale":{"domain":[-0.221,67.47],"nice":false,"zero":false,"reverse":true},"axis":null},
 "text":{"field":"lab"}}},
{"data":{"values":[{"t":"bar"}]},"mark":{"type":"rule","strokeWidth":1.2,"color":"#000000"},
 "encoding":{"x":{"datum":558,"type":"quantitative","scale":{"domain":[0,720],"nice":false,"zero":false},"axis":null},
 "x2":{"datum":605},
 "y":{"datum":67.05,"type":"quantitative","scale":{"domain":[-0.221,67.47],"nice":false,"zero":false,"reverse":true},"axis":null}}},
{"data":{"values":[{"t":"0.01"}]},"mark":{"type":"text","align":"center","baseline":"middle","fontSize":10,"color":"#111111"},
 "encoding":{"x":{"datum":581.5,"type":"quantitative","scale":{"domain":[0,720],"nice":false,"zero":false},"axis":null},
 "y":{"datum":66.1,"type":"quantitative","scale":{"domain":[-0.221,67.47],"nice":false,"zero":false,"reverse":true},"axis":null},
 "text":{"field":"t"}}},
{"data":{"values":[{"t":"B"}]},"mark":{"type":"text","align":"left","baseline":"middle","fontSize":18,"fontWeight":"bold","color":"#000000"},
 "encoding":{"x":{"datum":390,"type":"quantitative","scale":{"domain":[0,720],"nice":false,"zero":false},"axis":null},
 "y":{"datum":0.74,"type":"quantitative","scale":{"domain":[-0.221,67.47],"nice":false,"zero":false,"reverse":true},"axis":null},
 "text":{"field":"t"}}}
],
"resolve":{"scale":{"color":"independent"}}
}
],
"resolve":{"scale":{"x":"independent","y":"independent","color":"independent"}}
}
